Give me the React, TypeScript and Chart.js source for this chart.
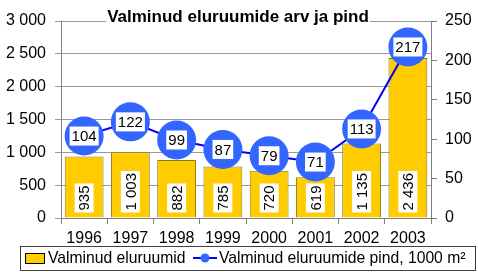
import React, { useEffect, useRef } from "react";
import { Chart, registerables } from "chart.js";

Chart.register(...registerables);

const years = ["1996", "1997", "1998", "1999", "2000", "2001", "2002", "2003"];
const dwellings = [935, 1003, 882, 785, 720, 619, 1135, 2436];
const floorArea = [104, 122, 99, 87, 79, 71, 113, 217];
const leftMax = 3000;
const leftStep = 500;
const rightMax = 250;
const rightStep = 50;
const titleText = "Valminud eluruumide arv ja pind";
const seriesNames = ["Valminud eluruumid", "Valminud eluruumide pind, 1000 m²"];

const FONT = "Arial, 'Liberation Sans', sans-serif";
const BAR_FILL = "#FFCC00";
const BAR_BORDER = "#8C7A1A";
const LINE_COLOR = "#0000FF";
const MARKER_FILL = "#3366FF";

const fmt = (v: number) => String(v).replace(/\B(?=(\d{3})+(?!\d))/g, " ");

const labelsPlugin = {
  id: "valueLabels",
  afterDatasetsDraw(chart: any) {
    const ctx = chart.ctx;
    ctx.save();
    ctx.font = `15px ${FONT}`;
    const barMeta = chart.getDatasetMeta(0);
    barMeta.data.forEach((el: any, i: number) => {
      const txt = fmt(dwellings[i]);
      const w = ctx.measureText(txt).width + 4;
      const h = 19;
      ctx.save();
      ctx.translate(el.x, el.base - 5);
      ctx.rotate(-Math.PI / 2);
      ctx.fillStyle = "#ffffff";
      ctx.fillRect(0, -h / 2, w, h);
      ctx.fillStyle = "#000000";
      ctx.textAlign = "left";
      ctx.textBaseline = "middle";
      ctx.fillText(txt, 2, 1);
      ctx.restore();
    });
    const lineMeta = chart.getDatasetMeta(1);
    lineMeta.data.forEach((el: any, i: number) => {
      const txt = fmt(floorArea[i]);
      const w = ctx.measureText(txt).width + 4;
      const h = 19;
      ctx.fillStyle = "#ffffff";
      ctx.fillRect(el.x - w / 2, el.y - h / 2, w, h);
      ctx.fillStyle = "#000000";
      ctx.textAlign = "center";
      ctx.textBaseline = "middle";
      ctx.fillText(txt, el.x, el.y + 1);
    });
    ctx.restore();
  },
};

const decorPlugin = {
  id: "decor",
  afterDraw(chart: any) {
    const ctx = chart.ctx;
    ctx.save();
    ctx.font = `bold 17px ${FONT}`;
    const tw = ctx.measureText(titleText).width;
    const cx = 238;
    ctx.fillStyle = "#ffffff";
    ctx.fillRect(cx - tw / 2 - 1, 8, tw + 2, 20);
    ctx.fillStyle = "#000000";
    ctx.textAlign = "center";
    ctx.textBaseline = "middle";
    ctx.fillText(titleText, cx, 17);

    const lx = 20, ly = 246, lw = 455, lh = 24;
    ctx.fillStyle = "#ffffff";
    ctx.fillRect(lx, ly, lw, lh);
    ctx.strokeStyle = "#404040";
    ctx.lineWidth = 1;
    ctx.strokeRect(lx + 0.5, ly + 0.5, lw, lh);
    const my = ly + lh / 2;
    ctx.fillStyle = BAR_FILL;
    ctx.fillRect(25, my - 5, 19, 10);
    ctx.strokeStyle = "#000000";
    ctx.strokeRect(25.5, my - 4.5, 19, 10);
    ctx.font = `15.7px ${FONT}`;
    ctx.fillStyle = "#000000";
    ctx.textAlign = "left";
    ctx.textBaseline = "middle";
    ctx.fillText(seriesNames[0], 48, my + 1);
    ctx.strokeStyle = LINE_COLOR;
    ctx.lineWidth = 2;
    ctx.beginPath();
    ctx.moveTo(193, my);
    ctx.lineTo(217, my);
    ctx.stroke();
    ctx.fillStyle = MARKER_FILL;
    ctx.beginPath();
    ctx.arc(205, my, 4.5, 0, Math.PI * 2);
    ctx.fill();
    ctx.fillStyle = "#000000";
    ctx.fillText(seriesNames[1], 219, my + 1);
    ctx.restore();
  },
};

export default function App() {
  const ref = useRef<HTMLCanvasElement | null>(null);
  useEffect(() => {
    if (!ref.current) return;
    const chart = new Chart(ref.current, {
      type: "bar",
      data: {
        labels: years,
        datasets: [
          {
            type: "bar",
            label: seriesNames[0],
            data: dwellings,
            backgroundColor: BAR_FILL,
            borderColor: BAR_BORDER,
            borderWidth: 1,
            barPercentage: 0.84,
            categoryPercentage: 1,
            yAxisID: "y",
            order: 2,
          },
          {
            type: "line",
            label: seriesNames[1],
            data: floorArea,
            borderColor: LINE_COLOR,
            borderWidth: 2,
            backgroundColor: MARKER_FILL,
            pointBackgroundColor: MARKER_FILL,
            pointBorderColor: MARKER_FILL,
            pointBorderWidth: 0,
            pointRadius: 19.5,
            tension: 0,
            yAxisID: "y1",
            order: 1,
          } as any,
        ],
      },
      options: {
        responsive: false,
        animation: false,
        devicePixelRatio: 1,
        layout: { padding: { top: 21, bottom: 26, left: 0, right: 0 } },
        plugins: {
          legend: { display: false },
          title: { display: false },
          tooltip: { enabled: false },
        },
        scales: {
          x: {
            offset: true,
            grid: {
              offset: true,
              drawOnChartArea: false,
              drawTicks: true,
              tickLength: 6,
              color: "#808080",
            },
            border: { color: "#808080" },
            ticks: {
              color: "#000000",
              font: { family: FONT, size: 16 },
              padding: 5,
              maxRotation: 0,
            },
            afterFit: (s: any) => {
              s.height = 28;
            },
          },
          y: {
            position: "left",
            min: 0,
            max: leftMax,
            grid: { color: "#999999", tickLength: 6 },
            border: { color: "#808080" },
            ticks: {
              stepSize: leftStep,
              color: "#000000",
              font: { family: FONT, size: 16 },
              padding: 9,
              callback: (v: any) => fmt(Number(v)),
            },
            afterFit: (s: any) => {
              s.width = 61;
            },
          },
          y1: {
            position: "right",
            min: 0,
            max: rightMax,
            grid: { drawOnChartArea: false, color: "#808080", tickLength: 6 },
            border: { color: "#808080" },
            ticks: {
              stepSize: rightStep,
              color: "#000000",
              font: { family: FONT, size: 16 },
              padding: 8,
            },
            afterFit: (s: any) => {
              s.width = 47;
            },
          },
        },
      } as any,
      plugins: [labelsPlugin, decorPlugin],
    });
    return () => chart.destroy();
  }, []);
  return (
    <div style={{ position: "absolute", left: 0, top: 0, width: 478, height: 272, background: "#ffffff" }}>
      <canvas ref={ref} width={478} height={272} style={{ display: "block", width: 478, height: 272 }} />
    </div>
  );
}
